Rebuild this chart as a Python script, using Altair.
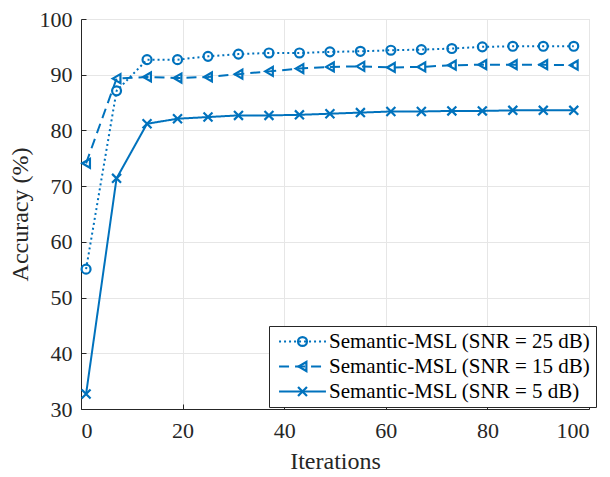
import altair as alt
import pandas as pd

iterations = [1, 7, 13, 19, 25, 31, 37, 43, 49, 55, 61, 67, 73, 79, 85, 91, 97]
acc_25 = [55.1, 87.1, 92.7, 92.7, 93.3, 93.7, 93.9, 93.9, 94.1, 94.2, 94.4, 94.5, 94.7, 95.0, 95.1, 95.1, 95.1]
acc_15 = [74.1, 89.3, 89.6, 89.4, 89.6, 90.1, 90.6, 91.1, 91.4, 91.5, 91.3, 91.4, 91.7, 91.8, 91.8, 91.8, 91.7]
acc_5 = [32.7, 71.4, 81.2, 82.1, 82.4, 82.7, 82.7, 82.8, 83.0, 83.2, 83.4, 83.4, 83.5, 83.5, 83.6, 83.6, 83.6]
series_labels = ["Semantic-MSL (SNR = 25 dB)", "Semantic-MSL (SNR = 15 dB)", "Semantic-MSL (SNR = 5 dB)"]
x_ticks = [0, 20, 40, 60, 80, 100]
y_ticks = [30, 40, 50, 60, 70, 80, 90, 100]

rows = []
for lab, vals in zip(series_labels, [acc_25, acc_15, acc_5]):
    for it, v in zip(iterations, vals):
        rows.append({"it": it, "acc": v, "series": lab, "series_m": lab})
df = pd.DataFrame(rows)

BLUE = "#0072BD"
FONT = "Liberation Serif"
DARK = "#262626"
W, H = 508, 390

axis_style = dict(labelFont=FONT, labelFontSize=22, labelColor=DARK,
                  titleFont=FONT, titleFontSize=24, titleFontWeight="normal", titleColor=DARK,
                  domainColor=DARK, domainWidth=1, gridColor="#e6e6e6", gridWidth=1)

xs = alt.Scale(domain=[0, 100], nice=False, zero=False)
ys = alt.Scale(domain=[30, 100], nice=False, zero=False)

lines = alt.Chart(df).mark_line(color=BLUE, strokeWidth=2).encode(
    x=alt.X("it:Q", scale=xs, axis=alt.Axis(title="Iterations", values=x_ticks, grid=True,
                                            ticks=False, labelPadding=11, titlePadding=8,
                                            **axis_style)),
    y=alt.Y("acc:Q", scale=ys, axis=alt.Axis(title="Accuracy (%)", values=y_ticks, grid=True,
                                             ticks=False, labelPadding=9, titlePadding=7,
                                             **axis_style)),
    strokeDash=alt.StrokeDash(
        "series:N",
        scale=alt.Scale(domain=series_labels, range=[[2, 3], [10, 6], [1, 0]]),
        legend=alt.Legend(
            title=None, orient="none", legendX=188, legendY=307,
            symbolType="M-5,0H5", symbolSize=88, symbolStrokeWidth=2,
            symbolStrokeColor=BLUE, symbolOffset=18,
            labelFont=FONT, labelFontSize=21,
            labelColor="black", labelOffset=16, padding=5, rowPadding=3,
            strokeColor=DARK, fillColor="white", labelLimit=400,
        ),
    ),
)

points = alt.Chart(df).mark_point(filled=False, color=BLUE, strokeWidth=2.2, size=80, opacity=1).encode(
    x=alt.X("it:Q", scale=xs, axis=alt.Axis(orient="top", offset=-H, labels=False, domain=False,
                                            grid=False, ticks=True, tickSize=5, tickColor=DARK,
                                            values=x_ticks, title=None)),
    y=alt.Y("acc:Q", scale=ys, axis=alt.Axis(orient="right", offset=-W, labels=False, domain=False,
                                             grid=False, ticks=True, tickSize=5, tickColor=DARK,
                                             values=y_ticks, title=None)),
    shape=alt.Shape(
        "series_m:N",
        scale=alt.Scale(domain=series_labels,
                        range=["circle", "triangle-left", "M-1,-1L1,1M-1,1L1,-1"]),
        legend=alt.Legend(
            title=None, orient="none", legendX=188, legendY=307,
            symbolSize=80, symbolStrokeWidth=2.2, symbolStrokeColor=BLUE,
            symbolFillColor="white", symbolOffset=18,
            labelFont=FONT, labelFontSize=21, labelOpacity=0, labelOffset=16,
            padding=5, rowPadding=3, labelLimit=400,
        ),
    ),
)

chart = alt.layer(lines, points).resolve_axis(x="independent", y="independent").resolve_legend(
    strokeDash="independent", shape="independent"
).properties(
    width=W, height=H, background="white",
    autosize=alt.AutoSizeParams(type="none"),
    padding={"left": 81, "top": 19, "right": 21, "bottom": 68},
).configure_view(stroke="#d4d4d4", strokeWidth=1)

chart.save("out.html", embed_options={"renderer": "svg", "actions": False})
